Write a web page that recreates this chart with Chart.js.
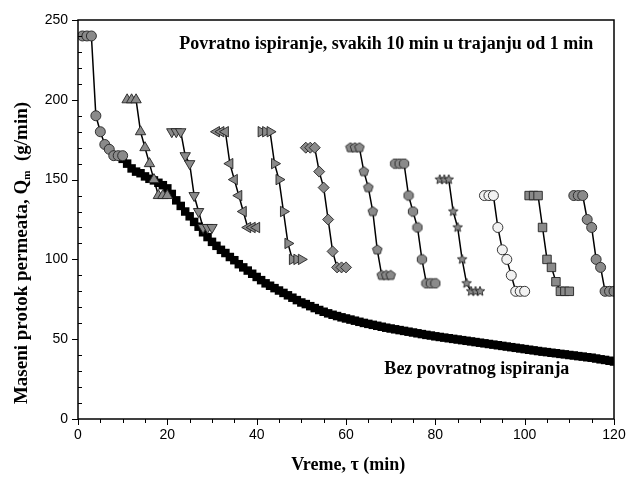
<!DOCTYPE html>
<html>
<head>
<meta charset="utf-8">
<script src="https://cdn.jsdelivr.net/npm/chart.js@4.4.1/dist/chart.umd.min.js"></script>
<style>
  html, body { margin: 0; padding: 0; background: #fff; }
  #wrap { width: 627px; height: 477px; }
</style>
</head>
<body>
<div id="wrap"><canvas id="chart"></canvas></div>
<script>
// minute inside each 10 min filtration cycle, and where each cycle starts
const cycleMinutes = [1, 2, 3, 4, 5, 6, 7, 8, 9, 10];
const cycleStarts = [0, 10, 20, 30, 40, 50, 60, 70, 80, 90, 100, 110];

// Povratno ispiranje - one array per cycle (g/min)
const cycle1 = [240, 240, 240, 190, 180, 172, 169, 165, 165, 165];
const cycle2 = [200, 200, 200, 180, 170, 160, 150, 140, 140, 140];
const cycle3 = [180, 180, 180, 165, 160, 140, 130, 120, 120, 120];
const cycle4 = [180, 180, 180, 160, 150, 140, 130, 120, 120, 120];
const cycle5 = [180, 180, 180, 160, 150, 130, 110, 100, 100, 100];
const cycle6 = [170, 170, 170, 155, 145, 125, 105, 95, 95, 95];
const cycle7 = [170, 170, 170, 155, 145, 130, 106, 90, 90, 90];
const cycle8 = [160, 160, 160, 140, 130, 120, 100, 85, 85, 85];
const cycle9 = [150, 150, 150, 130, 120, 100, 85, 80, 80, 80];
const cycle10 = [140, 140, 140, 120, 106, 100, 90, 80, 80, 80];
const cycle11 = [140, 140, 140, 120, 100, 95, 86, 80, 80, 80];
const cycle12 = [140, 140, 140, 125, 120, 100, 95, 80, 80, 80];

// Bez povratnog ispiranja - one value per minute from 10 to 120 min
const bezStart = 10;
const bezValues = [
  163, 160, 157, 155, 154, 152, 150.5, 149.5, 148, 146.5,
  144.5, 141, 137, 133.5, 130, 127, 123.5, 120.5, 117, 114,
  111, 108.5, 106, 104, 101.5, 99.5, 97, 95, 93, 91,
  89, 87, 85, 83.5, 82, 80.5, 79, 77.5, 76, 74.5,
  73, 72, 70.7, 69.5, 68.3, 67.2, 66.2, 65.3, 64.5, 63.7,
  63, 62.3, 61.6, 60.9, 60.2, 59.6, 59, 58.4, 57.8, 57.2,
  56.7, 56.2, 55.7, 55.2, 54.7, 54.2, 53.7, 53.2, 52.7, 52.3,
  51.8, 51.4, 51, 50.6, 50.2, 49.8, 49.4, 49, 48.6, 48.2,
  47.8, 47.4, 47, 46.6, 46.2, 45.8, 45.4, 45, 44.6, 44.2,
  43.8, 43.4, 43, 42.6, 42.2, 41.9, 41.5, 41.2, 40.8, 40.5,
  40.1, 39.8, 39.4, 39.1, 38.7, 38.4, 37.9, 37.4, 37, 36.5,
  36
];

const xTicks = [0, 20, 40, 60, 80, 100, 120];
const yTicks = [0, 50, 100, 150, 200, 250];

const GRAY = '#8a8a8a';
const SERIF = '"Liberation Serif", "Times New Roman", serif';
const SANS = '"Liberation Sans", Arial, sans-serif';

// small canvas markers for shapes Chart.js does not have
function makeMarker(shape, fill, size) {
    const c = document.createElement('canvas');
    c.width = size;
    c.height = size;
    const ctx = c.getContext('2d');
    const cx = size / 2, cy = size / 2, r = size / 2 - 1;
    ctx.beginPath();
    if (shape === 'star') {
        for (let i = 0; i < 10; i++) {
            const a = -Math.PI / 2 + i * Math.PI / 5;
            const rr = i % 2 === 0 ? r : r * 0.45;
            ctx.lineTo(cx + Math.cos(a) * rr, cy + Math.sin(a) * rr);
        }
    } else {
        const n = shape === 'pentagon' ? 5 : 8;
        const off = shape === 'pentagon' ? -Math.PI / 2 : Math.PI / 8;
        for (let i = 0; i < n; i++) {
            const a = off + i * 2 * Math.PI / n;
            ctx.lineTo(cx + Math.cos(a) * r, cy + Math.sin(a) * r);
        }
    }
    ctx.closePath();
    ctx.fillStyle = fill;
    ctx.fill();
    ctx.strokeStyle = '#222';
    ctx.lineWidth = 0.9;
    ctx.stroke();
    return c;
}

const markerStyles = [
    { pointStyle: 'circle', radius: 5, rotation: 0, fill: GRAY },
    { pointStyle: 'triangle', radius: 6, rotation: 0, fill: GRAY },
    { pointStyle: 'triangle', radius: 6, rotation: 180, fill: GRAY },
    { pointStyle: 'triangle', radius: 6, rotation: 270, fill: GRAY },
    { pointStyle: 'triangle', radius: 6, rotation: 90, fill: GRAY },
    { pointStyle: 'rectRot', radius: 5.5, rotation: 0, fill: GRAY },
    { pointStyle: makeMarker('pentagon', GRAY, 12), radius: 6, rotation: 0, fill: GRAY },
    { pointStyle: makeMarker('octagon', GRAY, 12), radius: 6, rotation: 0, fill: GRAY },
    { pointStyle: makeMarker('star', GRAY, 12), radius: 6, rotation: 0, fill: GRAY },
    { pointStyle: 'circle', radius: 5, rotation: 0, fill: '#f2f2f2' },
    { pointStyle: 'rect', radius: 6, rotation: 0, fill: GRAY },
    { pointStyle: 'circle', radius: 5, rotation: 0, fill: GRAY }
];

const cycles = [cycle1, cycle2, cycle3, cycle4, cycle5, cycle6,
                cycle7, cycle8, cycle9, cycle10, cycle11, cycle12];

const datasets = cycles.map((vals, i) => {
    const m = markerStyles[i];
    return {
        label: 'Povratno ispiranje ' + (i + 1),
        data: vals.map((v, k) => ({ x: cycleStarts[i] + cycleMinutes[k], y: v })),
        borderColor: '#000',
        borderWidth: 1.5,
        pointStyle: m.pointStyle,
        pointRadius: m.radius,
        pointRotation: m.rotation,
        pointBackgroundColor: m.fill,
        pointBorderColor: '#222',
        pointBorderWidth: 0.9,
        tension: 0,
        order: 1
    };
});

datasets.push({
    label: 'Bez povratnog ispiranja',
    data: bezValues.map((v, k) => ({ x: bezStart + k, y: v })),
    borderColor: '#000',
    borderWidth: 2,
    pointStyle: 'rect',
    pointRadius: 6,
    pointBackgroundColor: '#000',
    pointBorderColor: '#000',
    pointBorderWidth: 0,
    order: 2
});

// frame, tick marks, axis titles and the two notes
const decorPlugin = {
    id: 'decor',
    afterDraw(chart) {
        const { ctx, chartArea: a, scales: { x, y } } = chart;
        ctx.save();
        ctx.strokeStyle = '#000';
        ctx.lineWidth = 1.5;
        ctx.strokeRect(a.left, a.top, a.right - a.left, a.bottom - a.top);

        ctx.lineWidth = 1;
        ctx.beginPath();
        for (let v = 0; v <= 120; v += 5) {
            const px = Math.round(x.getPixelForValue(v)) + 0.5;
            const len = v % 20 === 0 ? 6 : 4;
            ctx.moveTo(px, a.bottom);
            ctx.lineTo(px, a.bottom + len);
        }
        for (let v = 0; v <= 250; v += 10) {
            const py = Math.round(y.getPixelForValue(v)) + 0.5;
            if (v % 50 === 0) {
                ctx.moveTo(a.left - 6, py);
                ctx.lineTo(a.left, py);
            } else {
                ctx.moveTo(a.left, py);
                ctx.lineTo(a.left + 4, py);
            }
        }
        ctx.stroke();

        ctx.fillStyle = '#000';
        ctx.font = 'bold 18px ' + SERIF;
        ctx.textAlign = 'center';
        ctx.textBaseline = 'middle';
        ctx.fillText('Povratno ispiranje, svakih 10 min u trajanju od 1 min',
            x.getPixelForValue(69), y.getPixelForValue(235));
        ctx.fillText('Bez povratnog ispiranja',
            x.getPixelForValue(89.3), y.getPixelForValue(31.3));
        ctx.fillText('Vreme, \u03c4 (min)', x.getPixelForValue(60.5), 465);

        // y title with subscript m
        const part1 = 'Maseni protok permeata, Q';
        const part2 = '  (g/min)';
        ctx.font = 'bold 19px ' + SERIF;
        const w1 = ctx.measureText(part1).width;
        const w3 = ctx.measureText(part2).width;
        ctx.font = 'bold 11px ' + SERIF;
        const w2 = ctx.measureText('m').width;
        const total = w1 + w2 + w3;
        ctx.translate(22, 253);
        ctx.rotate(-Math.PI / 2);
        ctx.textAlign = 'left';
        ctx.font = 'bold 19px ' + SERIF;
        ctx.fillText(part1, -total / 2, 0);
        ctx.font = 'bold 11px ' + SERIF;
        ctx.fillText('m', -total / 2 + w1, 5);
        ctx.font = 'bold 19px ' + SERIF;
        ctx.fillText(part2, -total / 2 + w1 + w2, 0);
        ctx.restore();
    }
};

new Chart(document.getElementById('chart').getContext('2d'), {
    type: 'line',
    data: { datasets },
    options: {
        responsive: true,
        maintainAspectRatio: false,
        animation: false,
        layout: { padding: { top: 20, right: 13, left: 0, bottom: 0 } },
        plugins: {
            legend: { display: false },
            tooltip: { enabled: false }
        },
        scales: {
            x: {
                type: 'linear',
                min: 0,
                max: 120,
                afterBuildTicks: s => { s.ticks = xTicks.map(v => ({ value: v })); },
                afterFit: s => { s.height = 58; s.paddingLeft = 0; s.paddingRight = 0; },
                grid: { display: false, drawTicks: false },
                border: { display: false },
                ticks: {
                    padding: 8,
                    color: '#000',
                    font: { family: SANS, size: 14 },
                    maxRotation: 0
                }
            },
            y: {
                min: 0,
                max: 250,
                afterBuildTicks: s => { s.ticks = yTicks.map(v => ({ value: v })); },
                afterFit: s => { s.width = 78; s.paddingTop = 0; s.paddingBottom = 0; },
                grid: { display: false, drawTicks: false },
                border: { display: false },
                ticks: {
                    padding: 10,
                    color: '#000',
                    font: { family: SANS, size: 14 }
                }
            }
        }
    },
    plugins: [decorPlugin]
});
</script>
</body>
</html>
